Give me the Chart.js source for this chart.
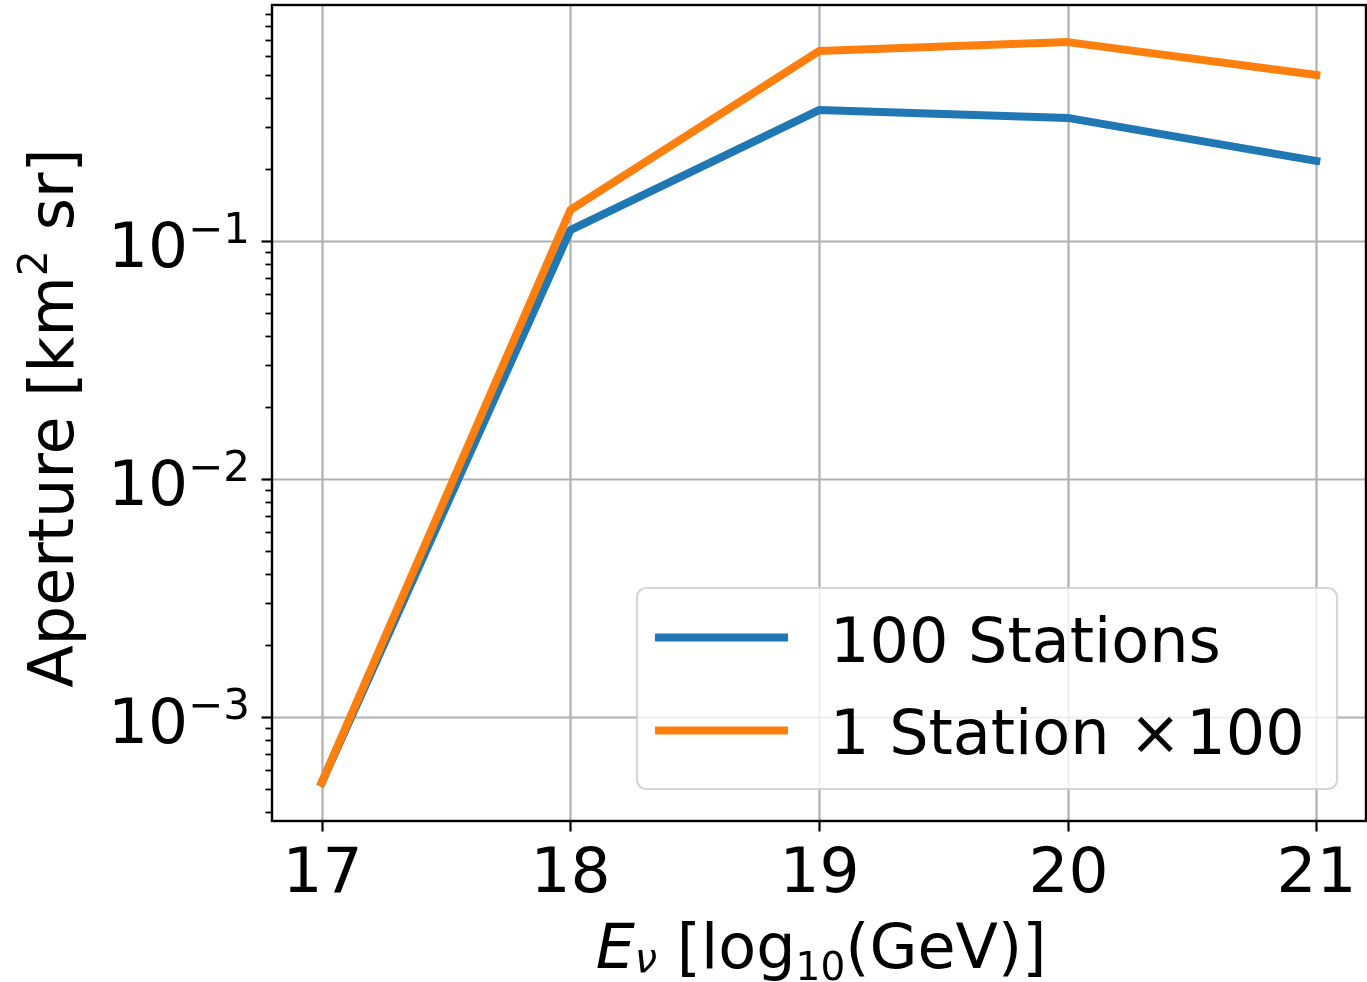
<!DOCTYPE html>
<html>
<head>
<meta charset="utf-8">
<script src="https://cdn.jsdelivr.net/npm/chart.js@4/dist/chart.umd.min.js"></script>
<style>
  html, body { margin: 0; padding: 0; background: #ffffff; }
  #wrap { width: 1367px; height: 982px; position: relative; }
  canvas { display: block; }
</style>
</head>
<body>
<div id="wrap"><canvas id="c" width="1367" height="982"></canvas></div>
<script>
// ---- data ----
const energies = [17, 18, 19, 20, 21];                       // log10(E / GeV)
const aperture100Stations = [5.3e-4, 0.111, 0.355, 0.329, 0.217];
const aperture1StationX100 = [5.3e-4, 0.135, 0.628, 0.685, 0.498];
const seriesNames = ['100 Stations', '1 Station \u00d7100'];
const xTickValues = [17, 18, 19, 20, 21];
const xTickLabels = ['17', '18', '19', '20', '21'];
const yTickExponents = [-3, -2, -1];
const xTitle = { main: 'E', sub: '\u03bd', rest1: ' [log', sub2: '10', rest2: '(GeV)]' };
const yTitle = { a: 'Aperture [km', sup: '2', b: ' sr]' };

const FONT = '"DejaVu Sans", "Liberation Sans", sans-serif';
const FS = 62;
const BLUE = '#1f77b4', ORANGE = '#ff7f0e';

function pts(xs, ys) { return xs.map((x, i) => ({ x: x, y: ys[i] })); }

const mplPlugin = {
  id: 'mpl',
  beforeDatasetsDraw(chart) {
    const { ctx, chartArea: a, scales: { x, y } } = chart;
    ctx.save();
    ctx.beginPath();
    ctx.rect(a.left, a.top, a.right - a.left, a.bottom - a.top);
    ctx.clip();
    ctx.strokeStyle = '#b0b0b0';
    ctx.lineWidth = 2.2;
    xTickValues.forEach(v => {
      const px = Math.round(x.getPixelForValue(v)) + 0.5;
      ctx.beginPath(); ctx.moveTo(px, a.top); ctx.lineTo(px, a.bottom); ctx.stroke();
    });
    yTickExponents.forEach(e => {
      const py = Math.round(y.getPixelForValue(Math.pow(10, e))) + 0.5;
      ctx.beginPath(); ctx.moveTo(a.left, py); ctx.lineTo(a.right, py); ctx.stroke();
    });
    ctx.restore();
  },
  afterDatasetsDraw(chart) {
    const { ctx, chartArea: a, scales: { x, y } } = chart;
    ctx.save();
    // spines
    ctx.strokeStyle = '#000';
    ctx.lineWidth = 2.4;
    ctx.strokeRect(a.left, a.top, a.right - a.left, a.bottom - a.top);

    // x ticks and labels
    ctx.lineWidth = 2.2;
    ctx.fillStyle = '#000';
    ctx.font = '63px ' + FONT;
    ctx.textAlign = 'center';
    ctx.textBaseline = 'alphabetic';
    xTickValues.forEach((v, i) => {
      const px = Math.round(x.getPixelForValue(v)) + 0.5;
      ctx.beginPath(); ctx.moveTo(px, a.bottom); ctx.lineTo(px, a.bottom + 10.5); ctx.stroke();
      ctx.fillText(xTickLabels[i], px, 892);
    });

    // y major + minor ticks
    const lo = y.min, hi = y.max;
    for (let k = -5; k <= 1; k++) {
      for (let m = 1; m <= 9; m++) {
        const v = m * Math.pow(10, k);
        if (v < lo || v > hi) continue;
        const py = Math.round(y.getPixelForValue(v)) + 0.5;
        const len = (m === 1) ? 10.5 : 6.5;
        ctx.lineWidth = (m === 1) ? 2.2 : 1.8;
        ctx.beginPath(); ctx.moveTo(a.left - len, py); ctx.lineTo(a.left, py); ctx.stroke();
      }
    }
    // y tick labels 10^{-k}
    yTickExponents.forEach(e => {
      const py = y.getPixelForValue(Math.pow(10, e));
      const base = '10', sup = '\u2212' + Math.abs(e);
      ctx.font = '63px ' + FONT;
      const wb = ctx.measureText(base).width;
      ctx.font = '42px ' + FONT;
      const ws = ctx.measureText(sup).width;
      const right = 250;
      ctx.textAlign = 'left';
      ctx.font = '63px ' + FONT;
      ctx.fillText(base, right - ws - wb, py + 26);
      ctx.font = '42px ' + FONT;
      ctx.fillText(sup, right - ws, py + 2);
    });

    // x title
    {
      const parts = [
        { t: xTitle.main, f: 'italic ' + FS + 'px ' + FONT, dy: 0 },
        { t: xTitle.sub, f: 'italic 40px ' + FONT, dy: 4 },
        { t: xTitle.rest1, f: FS + 'px ' + FONT, dy: 0 },
        { t: xTitle.sub2, f: '39px ' + FONT, dy: 12 },
        { t: xTitle.rest2, f: FS + 'px ' + FONT, dy: 0 }
      ];
      let W = 0;
      parts.forEach(p => { ctx.font = p.f; p.w = ctx.measureText(p.t).width; W += p.w; });
      let cx = (a.left + a.right) / 2 - W / 2 + 2;
      ctx.textAlign = 'left';
      parts.forEach(p => { ctx.font = p.f; ctx.fillText(p.t, cx, 968 + p.dy); cx += p.w; });
    }

    // y title (rotated)
    {
      ctx.save();
      ctx.translate(73, (a.top + a.bottom) / 2 + 5);
      ctx.rotate(-Math.PI / 2);
      const parts = [
        { t: yTitle.a, f: FS + 'px ' + FONT, dy: 0 },
        { t: yTitle.sup, f: '41px ' + FONT, dy: -26 },
        { t: yTitle.b, f: FS + 'px ' + FONT, dy: 0 }
      ];
      let W = 0;
      parts.forEach(p => { ctx.font = p.f; p.w = ctx.measureText(p.t).width; W += p.w; });
      let cx = -W / 2;
      ctx.textAlign = 'left';
      parts.forEach(p => { ctx.font = p.f; ctx.fillText(p.t, cx, p.dy); cx += p.w; });
      ctx.restore();
    }

    // legend
    {
      const bx = 637, by = 588, bw = 700, bh = 201, r = 9;
      ctx.beginPath();
      ctx.moveTo(bx + r, by);
      ctx.arcTo(bx + bw, by, bx + bw, by + bh, r);
      ctx.arcTo(bx + bw, by + bh, bx, by + bh, r);
      ctx.arcTo(bx, by + bh, bx, by, r);
      ctx.arcTo(bx, by, bx + bw, by, r);
      ctx.closePath();
      ctx.fillStyle = 'rgba(255,255,255,0.8)';
      ctx.fill();
      ctx.strokeStyle = 'rgba(204,204,204,0.8)';
      ctx.lineWidth = 2.2;
      ctx.stroke();

      const colors = [BLUE, ORANGE];
      const rowsY = [637.5, 730.5];
      const baseY = [662, 754];
      ctx.lineCap = 'butt';
      ctx.lineWidth = 8;
      colors.forEach((c, i) => {
        ctx.strokeStyle = c;
        ctx.beginPath(); ctx.moveTo(655, rowsY[i]); ctx.lineTo(788, rowsY[i]); ctx.stroke();
      });
      ctx.fillStyle = '#000';
      ctx.font = FS + 'px ' + FONT;
      ctx.textAlign = 'left';
      ctx.fillText(seriesNames[0], 830, baseY[0]);
      // second label: "1 Station ×100" with mathtext-like spacing
      const [txt, num] = seriesNames[1].split('\u00d7');
      let lx = 830;
      ctx.fillText(txt + '\u00d7', lx, baseY[1]);
      lx += ctx.measureText(txt + '\u00d7').width + 5;
      ctx.fillText(num, lx, baseY[1]);
    }
    ctx.restore();
  }
};

new Chart(document.getElementById('c'), {
  type: 'line',
  data: {
    datasets: [
      {
        label: seriesNames[0],
        data: pts(energies, aperture100Stations),
        borderColor: BLUE, backgroundColor: BLUE,
        borderWidth: 8, pointRadius: 0, tension: 0,
        borderCapStyle: 'square', borderJoinStyle: 'round',
        order: 1
      },
      {
        label: seriesNames[1],
        data: pts(energies, aperture1StationX100),
        borderColor: ORANGE, backgroundColor: ORANGE,
        borderWidth: 8, pointRadius: 0, tension: 0,
        borderCapStyle: 'square', borderJoinStyle: 'round',
        order: 0
      }
    ]
  },
  options: {
    responsive: false,
    animation: false,
    devicePixelRatio: 1,
    layout: { padding: { top: 5, right: 1, left: 0, bottom: 0 } },
    plugins: { legend: { display: false }, tooltip: { enabled: false } },
    scales: {
      x: {
        type: 'linear', min: 16.8, max: 21.2,
        ticks: { display: false }, grid: { display: false }, border: { display: false },
        afterFit: s => { s.height = 161; }
      },
      y: {
        type: 'logarithmic', min: Math.pow(10, -3.437), max: Math.pow(10, -0.0084),
        ticks: { display: false }, grid: { display: false }, border: { display: false },
        afterFit: s => { s.width = 272; }
      }
    }
  },
  plugins: [mplPlugin]
});
</script>
</body>
</html>
